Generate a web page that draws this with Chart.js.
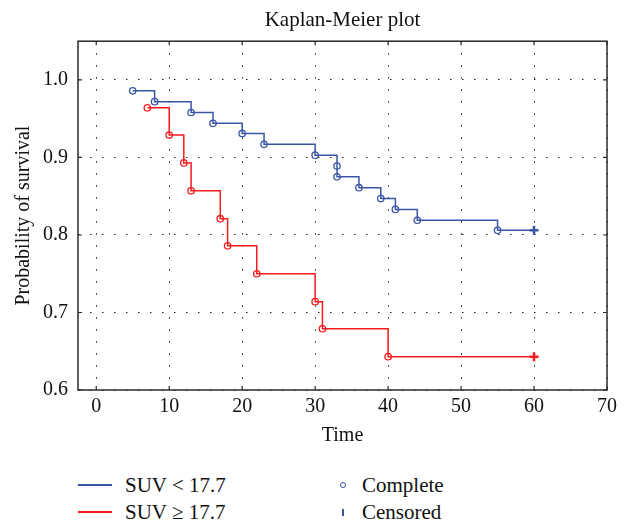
<!DOCTYPE html>
<html>
<head>
<meta charset="utf-8">
<script src="https://cdn.jsdelivr.net/npm/chart.js@4/dist/chart.umd.min.js"></script>
<style>
  body { margin: 0; background: #fff; font-family: "Liberation Serif", "DejaVu Serif", serif; }
  #wrap { position: relative; width: 627px; height: 460px; }
  #legend { position: absolute; left: 0; top: 470px; width: 627px; height: 53px; font-size: 21px; color: #111; }
  .item { position: absolute; height: 24px; line-height: 24px; white-space: nowrap; }
  .swatch { position: absolute; left: 0; top: 11px; width: 34px; height: 1.5px; }
  .mark { position: absolute; box-sizing: border-box; }
</style>
</head>
<body>
<div id="wrap"><canvas id="myChart"></canvas></div>
<div id="legend">
  <div class="item" style="left:78px; top:3px;"><div class="swatch" style="background:#3a55a6;"></div><span style="margin-left:47px;">SUV &lt; 17.7</span></div>
  <div class="item" style="left:78px; top:30px;"><div class="swatch" style="background:#f41c1c;"></div><span style="margin-left:47px;">SUV ≥ 17.7</span></div>
  <div class="item" style="left:339px; top:3px;"><div class="mark" style="left:1px; top:9px; width:6px; height:6px; border:1.3px solid #3a55a6; border-radius:50%;"></div><span style="margin-left:23px;">Complete</span></div>
  <div class="item" style="left:339px; top:30px;"><div class="mark" style="left:3px; top:9px; width:2px; height:7px; background:#3a55a6;"></div><span style="margin-left:23px;">Censored</span></div>
</div>
<script>
// group SUV < 17.7
const lowTimes = [5, 8, 13, 16, 20, 23, 30, 33, 33, 36, 39, 41, 44, 55, 60];
const lowSurvival = [0.986, 0.972, 0.958, 0.944, 0.931, 0.917, 0.903, 0.889, 0.875, 0.861, 0.847, 0.833, 0.819, 0.806, 0.806];
const lowCensored = [false, false, false, false, false, false, false, false, false, false, false, false, false, false, true];

// group SUV >= 17.7
const highTimes = [7, 10, 12, 13, 17, 18, 22, 30, 31, 40, 60];
const highSurvival = [0.964, 0.929, 0.893, 0.857, 0.821, 0.786, 0.750, 0.714, 0.679, 0.643, 0.643];
const highCensored = [false, false, false, false, false, false, false, false, false, false, true];

const xTickValues = [0, 10, 20, 30, 40, 50, 60, 70];
const yTickValues = [0.6, 0.7, 0.8, 0.9, 1.0];

const FONT = "'Liberation Serif', 'DejaVu Serif', serif";
const blue = '#3a55a6';
const red = '#f41c1c';

function toPoints(times, values) {
    return times.map((t, i) => ({ x: t, y: values[i] }));
}

function makeDataset(label, times, values, censored, color) {
    return {
        label: label,
        data: toPoints(times, values),
        stepped: true,
        borderColor: color,
        borderWidth: 1.5,
        backgroundColor: 'rgba(0,0,0,0)',
        pointBorderColor: color,
        pointBackgroundColor: 'rgba(0,0,0,0)',
        pointStyle: censored.map(c => c ? 'cross' : 'circle'),
        pointRadius: censored.map(c => c ? 4.5 : 3.2),
        pointBorderWidth: censored.map(c => c ? 2.5 : 1.3),
        pointHoverRadius: 0
    };
}

// box around the plot and small inward tick marks
const framePlugin = {
    id: 'frame',
    afterDraw(chart) {
        const ctx = chart.ctx;
        const a = chart.chartArea;
        const xs = chart.scales.x;
        const ys = chart.scales.y;
        ctx.save();
        ctx.strokeStyle = '#2b2b2b';
        ctx.lineWidth = 1.5;
        ctx.strokeRect(a.left, a.top, a.right - a.left, a.bottom - a.top);
        ctx.lineWidth = 1.2;
        ctx.beginPath();
        xTickValues.forEach(v => {
            const px = xs.getPixelForValue(v);
            ctx.moveTo(px, a.bottom); ctx.lineTo(px, a.bottom - 4);
            ctx.moveTo(px, a.top); ctx.lineTo(px, a.top + 4);
        });
        yTickValues.forEach(v => {
            const py = ys.getPixelForValue(v);
            ctx.moveTo(a.left, py); ctx.lineTo(a.left + 4, py);
            ctx.moveTo(a.right, py); ctx.lineTo(a.right - 4, py);
        });
        ctx.stroke();
        ctx.restore();
    }
};

const ctx = document.getElementById('myChart').getContext('2d');
new Chart(ctx, {
    type: 'line',
    data: {
        datasets: [
            makeDataset('SUV < 17.7', lowTimes, lowSurvival, lowCensored, blue),
            makeDataset('SUV ≥ 17.7', highTimes, highSurvival, highCensored, red)
        ]
    },
    options: {
        responsive: true,
        maintainAspectRatio: false,
        animation: false,
        layout: { padding: { left: 0, right: 20, top: 0, bottom: 0 } },
        plugins: {
            legend: { display: false },
            tooltip: { enabled: false },
            title: {
                display: true,
                fullSize: false,
                text: 'Kaplan-Meier plot',
                color: '#111',
                font: { family: FONT, size: 21, weight: 'normal' },
                padding: { top: 8, bottom: 8 }
            }
        },
        scales: {
            x: {
                type: 'linear',
                min: -2.5,
                max: 70,
                afterBuildTicks: s => { s.ticks = xTickValues.map(v => ({ value: v })); },
                afterFit: s => { s.height = 70; },
                ticks: { color: '#111', padding: 5, font: { family: FONT, size: 20 } },
                grid: { color: '#222', lineWidth: 1, drawTicks: false },
                border: { display: false, dash: [1.5, 10.5] },
                title: {
                    display: true,
                    text: 'Time',
                    color: '#111',
                    font: { family: FONT, size: 20 },
                    padding: { top: 0, bottom: 12 }
                }
            },
            y: {
                type: 'linear',
                min: 0.6,
                max: 1.05,
                afterBuildTicks: s => { s.ticks = yTickValues.map(v => ({ value: v })); },
                afterFit: s => { s.width = 78; },
                ticks: {
                    color: '#111',
                    padding: 10,
                    font: { family: FONT, size: 20 },
                    callback: v => v.toFixed(1)
                },
                grid: { color: '#222', lineWidth: 1, drawTicks: false },
                border: { display: false, dash: [1.5, 10.5] },
                title: {
                    display: true,
                    text: 'Probability of survival',
                    color: '#111',
                    font: { family: FONT, size: 20 },
                    padding: { top: 12, bottom: 0 }
                }
            }
        }
    },
    plugins: [framePlugin]
});
</script>
</body>
</html>
